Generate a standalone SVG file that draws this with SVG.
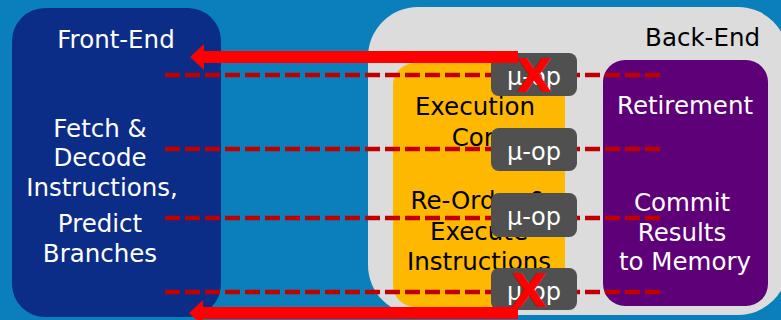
<svg xmlns="http://www.w3.org/2000/svg" width="781" height="320" viewBox="0 0 781 320">
  <style>
    text { font-family: "DejaVu Sans", Verdana, sans-serif; font-size: 24.5px; text-anchor: middle; }
    .light { fill: #ffffff; }
    .dark { fill: #000000; }
    .uop-box { fill: #505050; }
    .uop-label { fill: #ffffff; font-size: 24px; }
    .pipe { stroke: #c00000; stroke-width: 4.5; stroke-dasharray: 15 5; fill: none; }
    .flush { fill: #ff0000; }
    .cancel { fill: #ff0000; font-weight: bold; font-size: 47px; }
  </style>

  <!-- backdrop -->
  <rect x="0" y="0" width="781" height="320" fill="#0a7fbb"/>

  <g id="front-end">
    <rect x="12" y="8" width="209" height="309" rx="33" fill="#0c2d87"/>
    <text class="light" x="116" y="48">Front-End</text>
    <text class="light" x="100" y="137">Fetch &amp;</text>
    <text class="light" x="100" y="166">Decode</text>
    <text class="light" x="102" y="196">Instructions,</text>
    <text class="light" x="100" y="232">Predict</text>
    <text class="light" x="100" y="262">Branches</text>
  </g>

  <g id="back-end">
    <rect x="368" y="7" width="420" height="308" rx="50" fill="#dcdcdc"/>
    <text class="dark" x="760" y="46" style="text-anchor:end">Back-End</text>
  </g>

  <g id="execution-core">
    <rect x="393" y="63" width="172" height="244" rx="22" fill="#ffb800"/>
    <text class="dark" x="475" y="115">Execution</text>
    <text class="dark" x="480" y="146">Core</text>
    <text class="dark" x="479" y="209">Re-Order &amp;</text>
    <text class="dark" x="479" y="240">Execute</text>
    <text class="dark" x="479" y="270">Instructions</text>
  </g>

  <g id="retirement">
    <rect x="603" y="60" width="165" height="246" rx="22" fill="#5e0077"/>
    <text class="light" x="685" y="114">Retirement</text>
    <text class="light" x="682" y="211">Commit</text>
    <text class="light" x="682" y="241">Results</text>
    <text class="light" x="685" y="270">to Memory</text>
  </g>

  <g id="connectors">
    <line class="pipe" x1="165" y1="75" x2="660" y2="75"/>
    <line class="pipe" x1="165" y1="149" x2="660" y2="149"/>
    <line class="pipe" x1="165" y1="218" x2="660" y2="218"/>
    <line class="pipe" x1="165" y1="292" x2="660" y2="292"/>
  </g>

  <g id="uop-1">
    <rect class="uop-box" x="491" y="53" width="86" height="43" rx="8"/>
    <text class="uop-label" x="534" y="85">μ-op</text>
  </g>
  <g id="uop-2">
    <rect class="uop-box" x="491" y="128" width="86" height="43" rx="8"/>
    <text class="uop-label" x="534" y="160">μ-op</text>
  </g>
  <g id="uop-3">
    <rect class="uop-box" x="491" y="193" width="86" height="44" rx="8"/>
    <text class="uop-label" x="534" y="225">μ-op</text>
  </g>
  <g id="uop-4">
    <rect class="uop-box" x="491" y="268" width="86" height="42" rx="8"/>
    <text class="uop-label" x="534" y="300">μ-op</text>
  </g>

  <!-- pipeline flush arrows back to the front-end -->
  <g id="flush-arrows">
    <polygon class="flush" points="518,51 204,51 204,44 190,57 204,70 204,63 518,63"/>
    <polygon class="flush" points="518,307 203,307 203,300 189,313 203,326 203,319 518,319"/>
  </g>

  <g id="cancelled-uops">
    <text class="cancel" x="534" y="92">X</text>
    <text class="cancel" x="529" y="307">X</text>
  </g>
</svg>
